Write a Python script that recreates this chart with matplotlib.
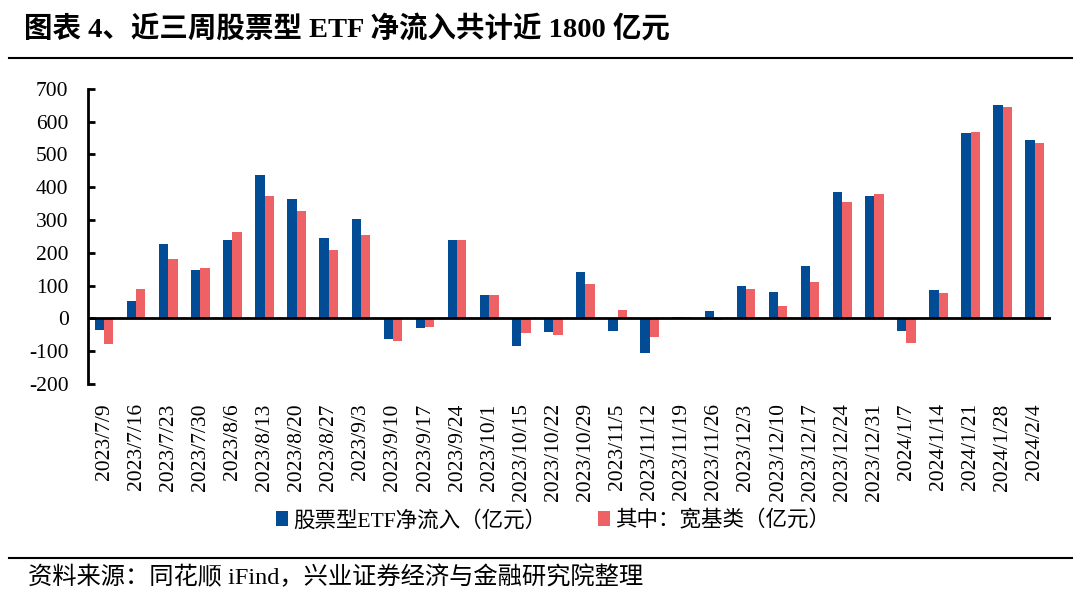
import matplotlib
matplotlib.use('Agg')
import matplotlib.pyplot as plt
import numpy as np

plt.rcParams['font.family'] = ['Liberation Serif', 'Noto Sans CJK SC']
plt.rcParams['axes.unicode_minus'] = False

dates = ['2023/7/9', '2023/7/16', '2023/7/23', '2023/7/30', '2023/8/6', '2023/8/13',
         '2023/8/20', '2023/8/27', '2023/9/3', '2023/9/10', '2023/9/17', '2023/9/24',
         '2023/10/1', '2023/10/15', '2023/10/22', '2023/10/29', '2023/11/5', '2023/11/12',
         '2023/11/19', '2023/11/26', '2023/12/3', '2023/12/10', '2023/12/17', '2023/12/24',
         '2023/12/31', '2024/1/7', '2024/1/14', '2024/1/21', '2024/1/28', '2024/2/4']
etf_inflow = [-35, 54, 227, 146, 240, 436, 363, 244, 303, -62, -30, 238,
              70, -84, -41, 141, -38, -107, 5, 23, 99, 79, 159, 387,
              373, -39, 87, 566, 652, 544]
broad_based = [-79, 89, 181, 153, 262, 372, 328, 209, 254, -69, -25, 238,
               71, -44, -51, 106, 24, -56, 4, -6, 90, 38, 111, 355,
               378, -74, 77, 569, 645, 534]

BLUE = '#024C96'
RED = '#EE6165'

fig = plt.figure(figsize=(10.8, 5.97), dpi=100)
ax = fig.add_axes([0.0815, 0.357, 0.8915, 0.494])

x = np.arange(len(dates))
w = 0.29
ax.bar(x - w / 2, etf_inflow, width=w, color=BLUE, label='股票型ETF净流入（亿元）')
ax.bar(x + w / 2, broad_based, width=w, color=RED, label='其中：宽基类（亿元）')

ax.set_xlim(-0.5, len(dates) - 0.5)
ax.set_ylim(-200, 700)
ax.set_yticks(range(-200, 701, 100))
ax.axhline(0, color='black', lw=2, zorder=3)

for s in ['top', 'right', 'bottom']:
    ax.spines[s].set_visible(False)
ax.spines['left'].set_linewidth(2)
ax.spines['left'].set_bounds(-200, 700)

ax.tick_params(axis='y', direction='in', length=5, width=2, labelsize=15.5, pad=14)
ax.set_xticks(x)
ax.set_xticklabels(dates, rotation=90, fontsize=15.5)
ax.tick_params(axis='x', length=0, pad=14)

leg = ax.legend(loc='center', bbox_to_anchor=(0.483, -0.464), ncol=2, frameon=False,
                fontsize=15.5, handlelength=0.55, handleheight=0.7, handletextpad=0.25,
                columnspacing=2.4)

fig.text(0.022, 0.952, '图表 4、近三周股票型 ETF 净流入共计近 1800 亿元',
         fontsize=20.5, fontweight='bold', va='center', ha='left')
fig.add_artist(plt.Line2D([0.008, 0.993], [0.903, 0.903], color='black', lw=1.5))
fig.add_artist(plt.Line2D([0.008, 0.993], [0.065, 0.065], color='black', lw=1.5))
fig.text(0.026, 0.033, '资料来源：同花顺 iFind，兴业证券经济与金融研究院整理',
         fontsize=17.5, va='center', ha='left')

fig.savefig('out.png', dpi=100)
